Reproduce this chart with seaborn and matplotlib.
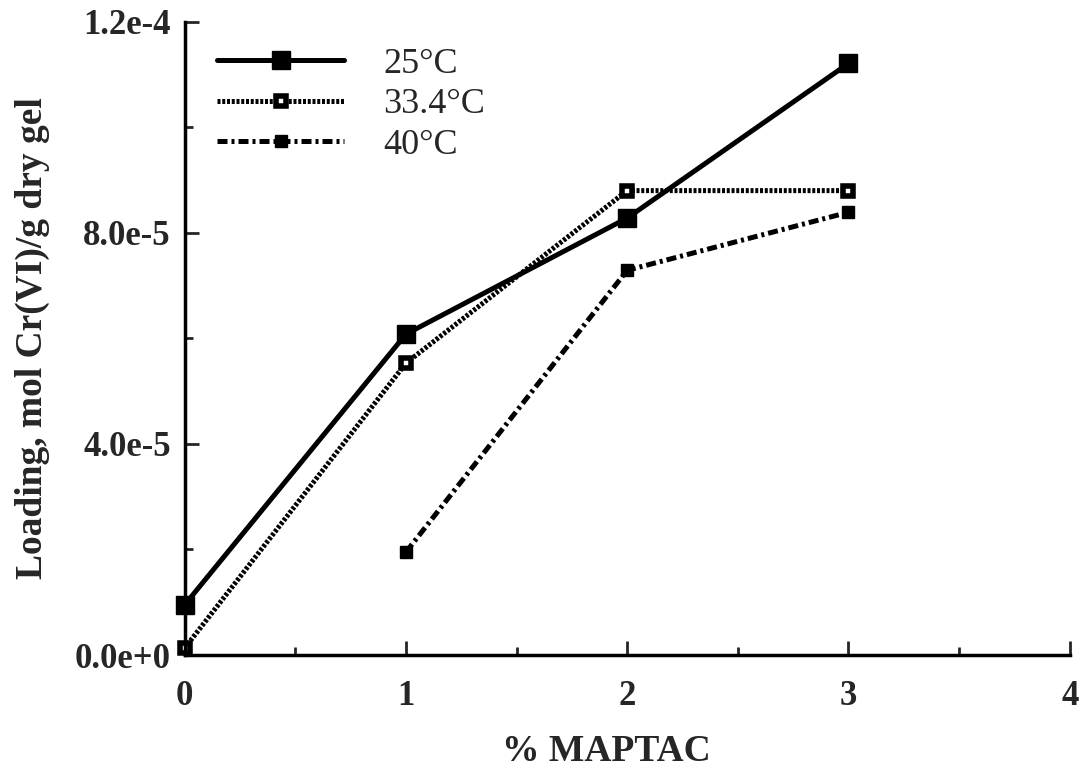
import numpy as np
import pandas as pd
import matplotlib
matplotlib.use("Agg")
import matplotlib.pyplot as plt
import seaborn as sns
from matplotlib.ticker import MultipleLocator

maptac = [0, 1, 2, 3]
load_25 = [9.5e-6, 6.08e-5, 8.28e-5, 1.121e-4]
maptac_33 = [0, 1, 2, 3]
load_33 = [1.3e-6, 5.53e-5, 8.8e-5, 8.8e-5]
maptac_40 = [1, 2, 3]
load_40 = [1.95e-5, 7.29e-5, 8.39e-5]
series_labels = ["25°C", "33.4°C", "40°C"]
y_ticks = [0.0, 4e-5, 8e-5, 1.2e-4]
y_tick_labels = ["0.0e+0", "4.0e-5", "8.0e-5", "1.2e-4"]
x_ticks = [0, 1, 2, 3, 4]

sns.set_style("white")
plt.rcParams['font.family'] = ['Liberation Serif', 'DejaVu Serif']

df = pd.concat([
    pd.DataFrame({"x": maptac, "y": load_25, "T": series_labels[0]}),
    pd.DataFrame({"x": maptac_33, "y": load_33, "T": series_labels[1]}),
    pd.DataFrame({"x": maptac_40, "y": load_40, "T": series_labels[2]}),
])

fig = plt.figure(figsize=(10.86, 7.77), dpi=100)
ax = fig.add_axes([0.170, 0.157, 0.815, 0.815])

styles = {
    series_labels[0]: dict(linestyle="-", marker="s", markersize=13, markerfacecolor="black", mew=1),
    series_labels[1]: dict(linestyle=(0, (0.6, 0.35)), marker="s", markersize=7, markerfacecolor="white", mew=4),
    series_labels[2]: dict(linestyle=(0, (2.0, 0.8, 0.6, 0.8)), marker="s", markersize=9, markerfacecolor="black", mew=1),
}

for lab in series_labels:
    sub = df[df["T"] == lab]
    st = styles[lab]
    sns.lineplot(data=sub, x="x", y="y", ax=ax, color="black", linewidth=3.6,
                 linestyle=st["linestyle"], marker=st["marker"], markersize=st["markersize"],
                 markerfacecolor=st["markerfacecolor"], markeredgecolor="black",
                 markeredgewidth=st["mew"], label=lab, clip_on=False)

ax.set_xlim(0, 4)
ax.set_ylim(0, 1.2e-4)
ax.set_xticks(x_ticks)
ax.set_xticklabels([str(v) for v in x_ticks], fontsize=25, fontweight="bold")
ax.set_yticks(y_ticks)
ax.set_yticklabels(y_tick_labels, fontsize=25, fontweight="bold")
ax.xaxis.set_minor_locator(MultipleLocator(0.5))
ax.yaxis.set_minor_locator(MultipleLocator(2e-5))
ax.tick_params(axis="both", which="major", direction="in", length=10, width=2)
ax.tick_params(axis="both", which="minor", direction="in", length=6, width=2)
ax.tick_params(axis="y", which="major", pad=10)
ax.tick_params(axis="x", which="major", pad=18)
ax.tick_params(axis="y", which="both", left=True, right=False)
ax.tick_params(axis="x", which="both", bottom=True, top=False)
for s in ["top", "right"]:
    ax.spines[s].set_visible(False)
for s in ["left", "bottom"]:
    ax.spines[s].set_linewidth(2.5)
    ax.spines[s].set_color("black")

ax.set_xlabel("% MAPTAC", fontsize=27, fontweight="bold")
ax.xaxis.set_label_coords(0.477, -0.125)
ax.set_ylabel("Loading, mol Cr(VI)/g dry gel", fontsize=27, fontweight="bold")
ax.yaxis.set_label_coords(-0.152, 0.5)

leg = ax.legend(loc="upper left", bbox_to_anchor=(0.037, 0.959), frameon=False, fontsize=26,
                handlelength=3.5, handletextpad=1.1, labelspacing=0.2,
                borderpad=0, borderaxespad=0)

fig.savefig("out.png", dpi=100)
